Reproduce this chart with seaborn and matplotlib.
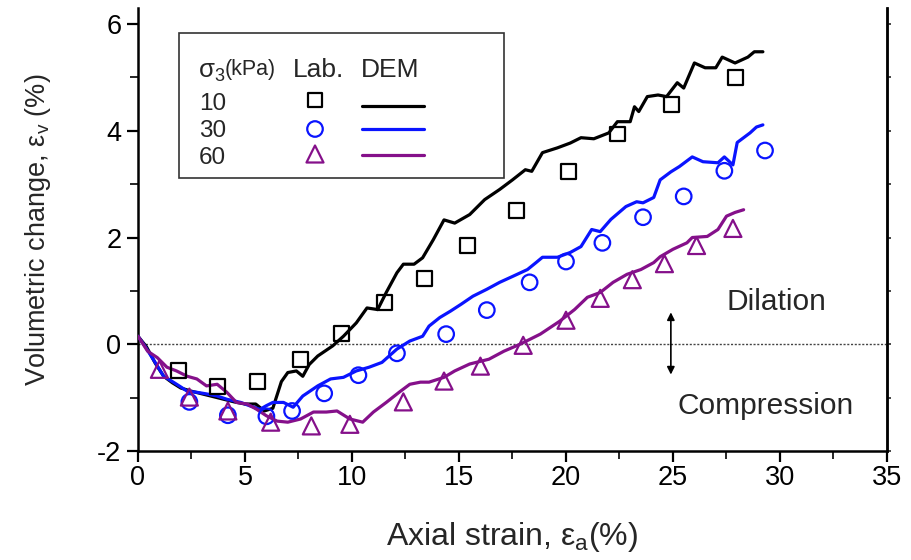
import numpy as np
import pandas as pd
import matplotlib
matplotlib.use("Agg")
import matplotlib.pyplot as plt
import seaborn as sns
from matplotlib.patches import Rectangle
from matplotlib.lines import Line2D
from matplotlib.ticker import MultipleLocator

# ---------------- data ----------------
sigma_labels = ["10", "30", "60"]

lab10_x = [1.9, 3.7, 5.6, 7.6, 9.5, 11.5, 13.4, 15.4, 17.7, 20.1, 22.4, 24.95, 27.9]
lab10_y = [-0.50, -0.79, -0.69, -0.28, 0.20, 0.78, 1.23, 1.85, 2.50, 3.23, 3.94, 4.50, 5.00]

lab30_x = [2.4, 4.2, 6.0, 7.2, 8.7, 10.3, 12.1, 14.4, 16.3, 18.3, 20.0, 21.7, 23.6, 25.5, 27.4, 29.3]
lab30_y = [-1.08, -1.33, -1.35, -1.25, -0.92, -0.58, -0.17, 0.19, 0.64, 1.16, 1.55, 1.90, 2.38, 2.77, 3.25, 3.63]

lab60_x = [1.0, 2.4, 4.2, 6.2, 8.1, 9.9, 12.4, 14.3, 16.0, 18.0, 20.0, 21.6, 23.1, 24.6, 26.1, 27.8]
lab60_y = [-0.47, -0.99, -1.25, -1.46, -1.53, -1.50, -1.08, -0.69, -0.41, -0.02, 0.45, 0.86, 1.21, 1.51, 1.85, 2.17]

dem10_x = [0, 0.4, 0.8, 1.2, 1.6, 2.0, 2.5, 3.0, 3.5, 4.0, 4.5, 5.0, 5.5, 5.9, 6.3, 6.7, 7.0, 7.4, 7.7,
           8.0, 8.4, 9.1, 9.6, 10.2, 10.7, 11.2, 11.6, 12.1, 12.4, 12.9, 13.3, 13.8, 14.3, 14.8, 15.5,
           16.2, 16.9, 17.5, 18.1, 18.4, 18.9, 19.6, 20.2, 20.7, 21.3, 22.0, 22.4, 23.0, 23.2, 23.4,
           23.8, 24.3, 24.7, 25.2, 25.5, 26.0, 26.5, 27.0, 27.3, 27.9, 28.5, 28.8, 29.2]
dem10_y = [0.15, -0.05, -0.35, -0.6, -0.72, -0.82, -0.88, -0.93, -0.98, -1.03, -1.08, -1.12, -1.12,
           -1.25, -1.2, -0.7, -0.53, -0.5, -0.6, -0.38, -0.22, -0.03, 0.15, 0.4, 0.68, 0.65, 0.97,
           1.34, 1.5, 1.5, 1.62, 1.96, 2.33, 2.27, 2.43, 2.71, 2.9, 3.08, 3.27, 3.24, 3.59, 3.68,
           3.77, 3.87, 3.85, 3.96, 4.17, 4.17, 4.45, 4.36, 4.64, 4.67, 4.64, 4.9, 4.8, 5.27, 5.18,
           5.18, 5.38, 5.27, 5.38, 5.48, 5.48]

dem30_x = [0, 0.33, 0.8, 1.2, 1.65, 2.0, 2.3, 2.75, 3.2, 3.7, 4.15, 4.8, 5.2, 5.7, 6.0, 6.3, 6.8,
           7.25, 7.7, 8.4, 9.0, 9.6, 10.2, 10.8, 11.4, 12.1, 12.7, 13.3, 13.6, 14.1, 14.6, 15.1,
           15.65, 16.3, 16.9, 17.5, 18.2, 18.6, 18.9, 19.6, 20.2, 20.7, 21.2, 21.6, 22.1, 22.8,
           23.3, 23.6, 24.1, 24.4, 24.9, 25.3, 25.9, 26.4, 27.1, 27.4, 27.8, 28.0, 28.6, 28.9, 29.2]
dem30_y = [0.15, -0.04, -0.34, -0.6, -0.71, -0.8, -0.88, -0.9, -0.93, -0.97, -1.03, -1.09, -1.15,
           -1.22, -1.15, -1.09, -1.09, -1.18, -0.97, -0.78, -0.65, -0.62, -0.5, -0.43, -0.34,
           -0.09, 0.06, 0.15, 0.34, 0.5, 0.62, 0.75, 0.9, 1.03, 1.16, 1.27, 1.4, 1.53, 1.63, 1.63,
           1.72, 1.83, 2.15, 2.11, 2.34, 2.58, 2.67, 2.65, 2.75, 3.08, 3.23, 3.33, 3.51, 3.42,
           3.4, 3.51, 3.36, 3.78, 3.96, 4.07, 4.11]

dem60_x = [0, 0.45, 0.9, 1.35, 1.8, 2.3, 2.75, 3.2, 3.7, 4.15, 4.6, 5.1, 5.55, 6.0, 6.5, 7.0, 7.6,
           8.2, 8.8, 9.3, 9.9, 10.5, 11.0, 11.6, 12.2, 12.7, 13.2, 13.6, 14.3, 14.8, 15.5, 16.4,
           17.1, 17.85, 18.8, 19.7, 20.4, 21.0, 21.6, 22.2, 22.85, 23.5, 24.1, 24.4, 25.0, 25.65,
           25.9, 26.6, 27.1, 27.5, 27.9, 28.3]
dem60_y = [0.15, -0.13, -0.25, -0.43, -0.5, -0.6, -0.65, -0.78, -0.75, -0.9, -1.09, -1.12, -1.22,
           -1.34, -1.44, -1.46, -1.4, -1.27, -1.27, -1.25, -1.4, -1.46, -1.27, -1.09, -0.9, -0.75,
           -0.71, -0.71, -0.62, -0.5, -0.37, -0.28, -0.13, 0.0, 0.19, 0.43, 0.65, 0.88, 0.97,
           1.16, 1.31, 1.4, 1.53, 1.64, 1.78, 1.9, 2.0, 2.02, 2.15, 2.4, 2.47, 2.52]

x_ticks = [0, 5, 10, 15, 20, 25, 30, 35]
y_ticks = [-2, 0, 2, 4, 6]

# ---------------- style ----------------
sns.set_theme(style="white")
plt.rcParams["font.family"] = ["Liberation Sans", "DejaVu Sans"]
plt.rcParams["mathtext.fontset"] = "custom"
plt.rcParams["mathtext.rm"] = "Liberation Sans"
plt.rcParams["mathtext.it"] = "Liberation Sans:italic"
plt.rcParams["mathtext.default"] = "regular"
plt.rcParams["axes.unicode_minus"] = False

colors = {"10": "black", "30": "#0a14ff", "60": "#85108a"}
markers = {"10": "s", "30": "o", "60": "^"}
msizes = {"10": 115, "30": 125, "60": 150}

dem = pd.concat([
    pd.DataFrame({"x": dem10_x, "y": dem10_y, "s": "10"}),
    pd.DataFrame({"x": dem30_x, "y": dem30_y, "s": "30"}),
    pd.DataFrame({"x": dem60_x, "y": dem60_y, "s": "60"}),
])
lab = {
    "10": pd.DataFrame({"x": lab10_x, "y": lab10_y}),
    "30": pd.DataFrame({"x": lab30_x, "y": lab30_y}),
    "60": pd.DataFrame({"x": lab60_x, "y": lab60_y}),
}

fig = plt.figure(figsize=(9.12, 5.6), dpi=100)
L, R, B, T = 138, 887, 451, 8
W, H = 912, 560
ax = fig.add_axes([L / W, (H - B) / H, (R - L) / W, (B - T) / H])

ax.axhline(0, color="#444444", lw=1.0, ls=(0, (1.5, 1.2)), zorder=1)

sns.lineplot(data=dem, x="x", y="y", hue="s", palette=colors, sort=False,
             estimator=None, lw=2.3, legend=False, ax=ax, zorder=3)
for k in sigma_labels:
    sns.scatterplot(data=lab[k], x="x", y="y", marker=markers[k], s=msizes[k],
                    facecolors="none", edgecolors=colors[k], linewidths=1.6,
                    ax=ax, zorder=4)

ax.set_xlim(0, 35)
ax.set_ylim(-2, 6.3)
ax.set_xticks(x_ticks)
ax.set_yticks(y_ticks)
ax.xaxis.set_minor_locator(MultipleLocator(2.5))
ax.yaxis.set_minor_locator(MultipleLocator(1))
ax.tick_params(which="major", direction="out", length=8, width=1.6, labelsize=19.5,
               pad=2, bottom=True, left=True, colors="black")
ax.tick_params(which="minor", direction="out", length=6, width=1.4, bottom=True, left=True)
ax.tick_params(axis="y", pad=4)
for sp in ["left", "bottom", "right"]:
    ax.spines[sp].set_linewidth(1.8)
    ax.spines[sp].set_color("black")
ax.spines["top"].set_visible(False)

sec = ax.secondary_yaxis("right")
sec.set_yticks(np.arange(-2, 6.5, 1.0))
sec.tick_params(direction="out", length=3, width=1.2, labelright=False)
sec.spines["right"].set_linewidth(1.8)

ax.set_xlabel("Axial strain, ε$_\\mathrm{a}$(%)", fontsize=23, labelpad=21)
ax.set_ylabel("Volumetric change, ε$_\\mathrm{v}$ (%)", fontsize=19.5, labelpad=32)

# dilation / compression annotation
arrow_x, arrow_top, arrow_bot = 24.9, 0.65, -0.62
ax.annotate("", xy=(arrow_x, arrow_top), xytext=(arrow_x, arrow_bot),
            arrowprops=dict(arrowstyle="<|-|>", color="black", lw=1.2, mutation_scale=11))
ax.text(27.5, 0.8, "Dilation", fontsize=21.5, va="center", ha="left")
ax.text(25.2, -1.16, "Compression", fontsize=21.5, va="center", ha="left")

# ---------------- legend (drawn as a table) ----------------
def fx(px):
    return (px - L) / (R - L)

def fy(py):
    return (B - py) / (B - T)

ax.add_patch(Rectangle((fx(179), fy(178)), fx(504) - fx(179), fy(33) - fy(178),
                       transform=ax.transAxes, fill=False, lw=1.2, ec="#333333", zorder=5))
ax.text(fx(198), fy(72), "σ$_\\mathrm{3}$", transform=ax.transAxes, fontsize=18.5, va="center", ha="left")
ax.text(fx(225), fy(70), "(kPa)", transform=ax.transAxes, fontsize=15.5, va="center", ha="left")
ax.text(fx(293), fy(70), "Lab.", transform=ax.transAxes, fontsize=19, va="center", ha="left")
ax.text(fx(361), fy(70), "DEM", transform=ax.transAxes, fontsize=19, va="center", ha="left")
row_y = {"10": 104, "30": 131, "60": 158}
mk_y = {"10": 100, "30": 129, "60": 154}
ln_y = {"10": 106, "30": 129, "60": 155}
for k in sigma_labels:
    ax.text(fx(199), fy(row_y[k]), k, transform=ax.transAxes, fontsize=17.5, va="center", ha="left")
    ax.scatter([fx(315)], [fy(mk_y[k])], transform=ax.transAxes, marker=markers[k],
               s=msizes[k], facecolors="none", edgecolors=colors[k], linewidths=1.6, zorder=6)
    ax.add_line(Line2D([fx(362), fx(424)], [fy(ln_y[k])] * 2, transform=ax.transAxes,
                       color=colors[k], lw=2.3, zorder=6))

fig.savefig("out.png", dpi=100)
